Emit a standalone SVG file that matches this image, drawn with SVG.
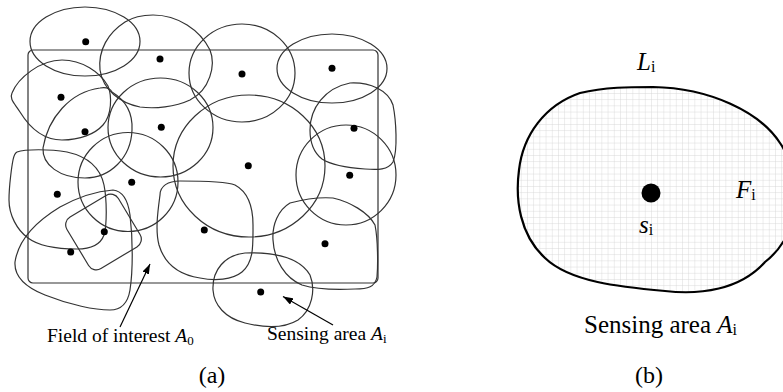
<svg xmlns="http://www.w3.org/2000/svg" width="783" height="392" viewBox="0 0 783 392">
<style>
.area{fill:none;stroke:#333;stroke-width:1.2}
.dot{fill:#000}
.lbl{font-family:"Liberation Serif",serif;fill:#000}
.it{font-style:italic}
</style>
<defs>
<marker id="ah" markerWidth="10" markerHeight="7" refX="10" refY="3.5" orient="auto" markerUnits="userSpaceOnUse">
<path d="M0,0 L10,3.5 L0,7 Z" fill="#000"/>
</marker>
<pattern id="grid" width="6.2" height="6.2" patternUnits="userSpaceOnUse">
<path d="M0,0 H6.2 M0,0 V6.2" stroke="#d2d2d2" stroke-width="0.8" fill="none"/>
</pattern>
</defs>
<rect width="783" height="392" fill="#fff"/>

<g id="field">
<rect x="28" y="50" width="350" height="233" rx="5" class="area"/>
</g>

<g id="areas">
<ellipse id="a1" cx="85" cy="41.5" rx="55" ry="34.5" class="area"/>
<path id="a2" class="area" d="M153,15 C178,15 200,30 210,50 C216,65 210,90 190,100 C175,107 155,109 140,107 C120,103 103,90 100,70 C98,50 108,33 125,22 C133,17 143,15 153,15 Z"/>
<ellipse id="a3" cx="242" cy="73" rx="53" ry="49" class="area"/>
<ellipse id="a4" cx="332" cy="68.5" rx="55" ry="34.5" class="area"/>
<path id="a5" class="area" d="M12,93 C18,78 40,60 62,60 C82,60 100,72 108,86 C112,96 112,115 103,125 C95,134 80,140 62,140 C42,140 28,125 20,112 C15,104 9,99 12,93 Z"/>
<path id="a6" class="area" d="M43,148 C48,118 70,92 100,88 C106,87 110,88 112,92 C125,100 133,112 132,130 C131,158 110,178 85,178 C60,178 42,165 43,148 Z"/>
<ellipse id="a7" cx="160.5" cy="127.5" rx="52.5" ry="49.5" class="area"/>
<path id="a8" class="area" d="M310,130 C310,108 325,88 350,83 C370,82 388,90 393,105 C396,120 398,150 393,162 C388,170 378,170 365,169 C350,168 333,166 322,159 C313,152 310,140 310,130 Z"/>
<ellipse id="a9" cx="249" cy="166" rx="76" ry="71" class="area"/>
<ellipse id="a10" cx="346" cy="175" rx="50" ry="50" class="area"/>
<ellipse id="a11" cx="128" cy="182" rx="50" ry="49.5" class="area"/>
<path id="a12" class="area" d="M17,152 C25,149 50,149 67,152 C85,156 100,166 104,185 C107,200 107,225 104,235 C100,246 90,249 77,249 C60,249 40,247 28,238 C17,230 9,215 9,200 C9,185 12,165 13,160 C14,155 15,153 17,152 Z"/>
<rect id="a13" x="73.5" y="202" width="60" height="60" rx="9" transform="rotate(-31 103.5 232)" class="area"/>
<path id="a14" class="area" d="M15,262 C18,242 32,224 60,207 C80,196 100,191 113,190 C122,191 128,200 130,215 C133,240 133,270 130,290 C128,302 122,310 110,310 C95,310 70,305 45,295 C25,287 14,277 15,262 Z"/>
<path id="a15" class="area" d="M160,195 C160,186 168,181 180,181 C200,181 225,181 235,185 C248,192 253,205 253,225 C253,245 254,262 242,272 C232,280 215,281 200,278 C180,275 165,265 159,245 C155,230 158,210 160,195 Z"/>
<path id="a16" class="area" d="M273,240 C272,225 278,210 290,203 C305,199 320,197 333,198 C350,202 368,212 375,225 C378,240 378,265 377,277 C375,287 368,289 355,289 C335,290 315,289 302,285 C285,278 274,260 273,240 Z"/>
<path id="a17" class="area" d="M213,290 C212,270 225,255 245,253 C275,252 300,258 310,275 C316,290 312,310 298,320 C285,328 265,328 245,323 C225,318 214,305 213,290 Z"/>
</g>

<g id="sensors">
<circle class="dot" cx="85.7" cy="41.7" r="3.5"/>
<circle class="dot" cx="160" cy="59" r="3.5"/>
<circle class="dot" cx="242" cy="74" r="3.5"/>
<circle class="dot" cx="332" cy="68.3" r="3.5"/>
<circle class="dot" cx="61" cy="97.3" r="3.5"/>
<circle class="dot" cx="85" cy="131.7" r="3.5"/>
<circle class="dot" cx="161.3" cy="127.3" r="3.5"/>
<circle class="dot" cx="354" cy="128.3" r="3.5"/>
<circle class="dot" cx="248.3" cy="165.7" r="3.5"/>
<circle class="dot" cx="349.7" cy="175.3" r="3.5"/>
<circle class="dot" cx="131.7" cy="182.3" r="3.5"/>
<circle class="dot" cx="57.3" cy="194.3" r="3.5"/>
<circle class="dot" cx="104.3" cy="231.7" r="3.5"/>
<circle class="dot" cx="70.7" cy="252" r="3.5"/>
<circle class="dot" cx="204.3" cy="230" r="3.5"/>
<circle class="dot" cx="325" cy="243.7" r="3.5"/>
<circle class="dot" cx="260.7" cy="292" r="3.5"/>
</g>

<g id="connectors">
<line x1="120" y1="327" x2="150" y2="264" stroke="#000" stroke-width="1.2" marker-end="url(#ah)"/>
<line x1="333" y1="325" x2="283" y2="296.5" stroke="#000" stroke-width="1.2" marker-end="url(#ah)"/>
</g>

<g id="labels-a">
<text class="lbl" x="47" y="342" font-size="19.5">Field of interest <tspan class="it">A</tspan><tspan font-size="13" dy="3">0</tspan></text>
<text class="lbl" x="267" y="340" font-size="19.5">Sensing area <tspan class="it">A</tspan><tspan font-size="13" dy="3">i</tspan></text>
<text class="lbl" x="212" y="383" font-size="24" text-anchor="middle">(a)</text>
</g>

<g id="single-area">
<path d="M653,87 C710,88 760,112 780,143 C805,180 800,235 765,262 C740,290 700,295 665,291 C620,287 570,282 545,258 C520,235 515,200 519,170 C523,135 545,105 580,93 C605,87 630,87 653,87 Z" fill="#fff"/>
<path d="M653,87 C710,88 760,112 780,143 C805,180 800,235 765,262 C740,290 700,295 665,291 C620,287 570,282 545,258 C520,235 515,200 519,170 C523,135 545,105 580,93 C605,87 630,87 653,87 Z" fill="url(#grid)" stroke="#000" stroke-width="2.2"/>
<circle cx="651" cy="193" r="9.5" fill="#000"/>
</g>

<g id="labels-b">
<text class="lbl" x="637" y="70" font-size="25"><tspan class="it">L</tspan><tspan font-size="16" dy="2">i</tspan></text>
<text class="lbl" x="736" y="198" font-size="25"><tspan class="it">F</tspan><tspan font-size="16" dy="2">i</tspan></text>
<text class="lbl" x="639" y="233" font-size="25"><tspan class="it">s</tspan><tspan font-size="16" dy="2">i</tspan></text>
<text class="lbl" x="584" y="333" font-size="25">Sensing area <tspan class="it">A</tspan><tspan font-size="16" dy="2">i</tspan></text>
<text class="lbl" x="649" y="383" font-size="24" text-anchor="middle">(b)</text>
</g>
</svg>
